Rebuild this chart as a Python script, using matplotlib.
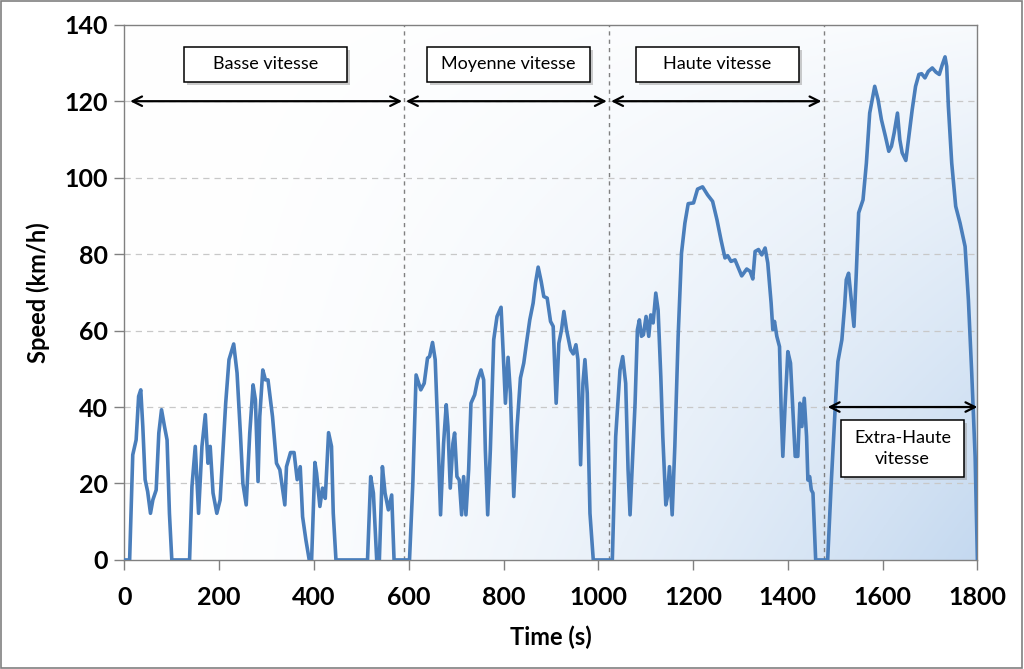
import numpy as np
import matplotlib
matplotlib.use("Agg")
import matplotlib.pyplot as plt
from matplotlib.patches import Rectangle

plt.rcParams['font.family'] = ['Lato', 'DejaVu Sans']

# WLTC class 3 speed trace (s, km/h)
time_s = [0, 11, 17.6, 24.7, 30, 34.5, 38.8, 43.7, 49, 55, 60, 67, 72.6, 78.3, 84.6, 90, 95, 100,
          137.5, 142.5, 149.5, 156.5, 163.6, 170.7, 176.3, 181, 187, 195, 202, 213.7, 220.7, 230.6,
          237.7, 244.7, 250, 257, 264.5, 271.5, 276.4, 282, 285.6, 292, 297.6, 303, 312.5, 320.9,
          328, 338.5, 342, 350.5, 358, 364.6, 371, 376, 383, 390, 395, 402, 405.5, 412.5, 418,
          423.8, 430.8, 437, 440.7, 446.4, 513, 519.7, 525.4, 532.4, 538, 544.4, 550, 557, 564,
          569, 601.6, 608.6, 615.5, 625.4, 632.6, 639.6, 643.9, 650.2, 655.8, 660.8, 667.1, 673.5,
          679.1, 682.7, 687.6, 693.2, 696.8, 701.7, 706.6, 711.6, 715.8, 720.7, 726.4, 731.3,
          739.1, 745.4, 752.5, 758.1, 761.6, 766.6, 772.2, 779.3, 786.3, 794.8, 799, 804, 809.6,
          814.5, 821.6, 828.6, 835.7, 842.7, 848.4, 855.4, 862.5, 867.4, 873.1, 879.4, 885, 892.1,
          899.2, 904.8, 911.1, 916.8, 922.4, 927.4, 933, 941.5, 947.1, 952.8, 957, 962.6, 967.6,
          971.8, 976.7, 982.4, 989.4, 1029.6, 1036.7, 1045.8, 1051.5, 1057.8, 1062.8, 1067, 1072,
          1077.6, 1082.5, 1086.7, 1091, 1095.2, 1100.8, 1106.5, 1110.7, 1115.7, 1121.3, 1126.2,
          1131.9, 1136.1, 1142.5, 1146, 1150.2, 1155.9, 1161.5, 1168.5, 1175.6, 1182.7, 1189.7,
          1201, 1209.4, 1220, 1230.6, 1241.2, 1250.4, 1258.8, 1267.3, 1273, 1280, 1288.5, 1295.6,
          1302.6, 1313.2, 1320.3, 1326, 1330.9, 1338, 1345, 1352, 1357.6, 1364.7, 1368.3, 1371.8,
          1376.7, 1382.4, 1385.9, 1389.4, 1394.4, 1400, 1405.6, 1410.6, 1415.5, 1421, 1425.4,
          1429.6, 1434.6, 1439.5, 1442.3, 1446, 1449.5, 1453, 1458.7, 1484, 1491.5, 1500, 1505.6,
          1514, 1519.7, 1523.3, 1528.2, 1533.9, 1539.5, 1544.4, 1549.4, 1558.6, 1565.7, 1572.7,
          1583.3, 1590.4, 1597.4, 1605.9, 1613, 1618.6, 1624.3, 1631.3, 1636.3, 1641.2, 1649,
          1655.4, 1662.4, 1669.5, 1676.5, 1682.2, 1689.3, 1696.3, 1704.8, 1712.6, 1719.6, 1726,
          1731.7, 1735.2, 1738.7, 1745.8, 1754.2, 1763.4, 1774, 1781, 1788, 1795.2, 1800]
speed_kmh = [0, 0, 27.5, 31.4, 42.8, 44.5, 34.9, 21, 17.9, 12.2, 15.7, 18.3, 33.2, 39.3, 34.9, 31.4, 12.2, 0,
             0, 19.2, 29.7, 12.2, 29.7, 38, 25.3, 29.7, 17.5, 12.2, 15.7, 41, 52.4, 56.5,
             48.9, 33.2, 20, 14.4, 33.2, 45.8, 41.9, 20.5, 37.5, 49.7, 47.1, 47.1, 37.5, 25.3,
             23.6, 14.4, 24.4, 28.1, 28.1, 21, 24.4, 11.3, 5.2, 0, 0, 25.5, 22.7, 14, 18.8,
             16.1, 33.3, 29.7, 12.2, 0, 0, 21.8, 17.5, 0, 0, 24.4, 17.5, 13.1, 17,
             0, 0, 20, 48.4, 44.5, 46.2, 52.8, 53.2, 56.9, 52.4, 35.8, 11.8, 30.5,
             40.6, 34.9, 18.8, 30.5, 33.2, 21.8, 20.9, 11.8, 21.8, 11.8, 23.6, 41,
             43.2, 47.1, 49.7, 47.1, 28.8, 11.8, 28.8, 57.6, 63.7, 66.1, 55, 41, 53,
             43.6, 16.6, 34.9, 47.6, 51.5, 56.7, 62.8, 67.2, 72.4, 76.6, 72.9, 68.9, 68.5,
             62.4, 61.1, 41, 56.7, 60.2, 65, 60.2, 55, 53.9, 56.3, 52.4, 24.9, 46.2,
             52.4, 43.6, 12.2, 0, 0, 32.3, 49.7, 53.2, 46.2, 23.6, 11.8, 25.3,
             41, 60.2, 62.8, 58.5, 58.9, 63.7, 58.5, 64.1, 62, 69.8, 65.4,
             48, 32.3, 14.4, 16.6, 24.4, 11.8, 29.7, 58.5, 80.3, 88.1, 93.2,
             93.4, 97, 97.6, 95.5, 93.8, 89, 83.8, 79, 79.6, 78.1, 78.5, 76.4,
             74.3, 76.1, 75.5, 73.5, 80.7, 81.2, 79.8, 81.6, 77.7, 67.2, 60.2, 62.4,
             58.5, 55.8, 39.3, 27.1, 41, 54.5, 51.5, 39.3, 27.1, 27.1, 41,
             34.9, 42.3, 32.3, 20.9, 21.8, 18.3, 17.5, 0, 0, 20, 40, 51.9,
             57.6, 66.3, 73.3, 75, 68, 61.1, 75, 90.8, 94.2, 103.8, 116.9,
             123.9, 120.4, 115.2, 110.8, 106.9, 108.2, 111.7, 116.9, 109.9, 106.5, 104.5,
             110.8, 117.8, 123.9, 127, 127.2, 126.1, 127.8, 128.7, 127.6, 127, 129.6,
             131.6, 129.1, 118.7, 103.8, 92.5, 88.1, 82, 68, 48.9, 27, 0]

phase_bounds = [589, 1022, 1477]
phase_names = ['Basse vitesse', 'Moyenne vitesse', 'Haute vitesse', 'Extra-Haute\nvitesse']
arrow_spans = [(12, 586), (594, 1018), (1027, 1471), (1484, 1800)]
arrow_levels = [120, 120, 120, 40]
# label boxes: (t_left, t_right, v_bottom, v_top)
label_boxes = [(126, 469, 125.1, 134.3), (638, 983, 125.1, 134.3),
               (1080, 1423, 125.1, 134.3), (1512, 1772, 21.7, 36.6)]

fig = plt.figure(figsize=(10.24, 6.69), dpi=100)
ax = fig.add_axes([0.1215, 0.163, 0.833, 0.8])

# background gradient: white at left and top, light blue toward bottom-right
gx, gy = np.meshgrid(np.linspace(0, 1, 300), np.linspace(0, 1, 200))
g = np.clip((gx ** 1.7) * (0.12 + 0.88 * gy ** 0.9), 0, 1)
c0 = np.array([1.0, 1.0, 1.0])
c1 = np.array([0.77, 0.85, 0.94])
img = c0 + (c1 - c0) * g[..., None]
ax.imshow(img, extent=[0, 1800, 0, 140], origin='upper', aspect='auto', zorder=0)

ax.set_xlim(0, 1800)
ax.set_ylim(0, 140)

for yv in range(20, 140, 20):
    ax.axhline(yv, color='#c8c8c8', lw=0.9, ls=(0, (5, 4)), zorder=1)
for xb in phase_bounds:
    ax.axvline(xb, color='#808080', lw=1.0, ls=(0, (3, 3)), zorder=1)

ax.plot(time_s, speed_kmh, color='#4a7ebb', lw=2.6, zorder=3,
        solid_joinstyle='round', solid_capstyle='round')

for (x0, x1), lv in zip(arrow_spans, arrow_levels):
    ax.annotate('', xy=(x1, lv), xytext=(x0, lv),
                arrowprops=dict(arrowstyle='<->', color='black', lw=1.6,
                                mutation_scale=17, shrinkA=0, shrinkB=0), zorder=4)

for name, (x0, x1, y0, y1) in zip(phase_names, label_boxes):
    # soft shadow then the white box
    ax.add_patch(Rectangle((x0 + 6, y0 - 0.8), x1 - x0, y1 - y0, fc='#9a9a9a', ec='none',
                           alpha=0.5, zorder=5))
    ax.add_patch(Rectangle((x0, y0), x1 - x0, y1 - y0, fc='white', ec='black', lw=1.1, zorder=6))
    ax.text((x0 + x1) / 2, (y0 + y1) / 2, name, ha='center', va='center', fontsize=13,
            linespacing=1.35, zorder=7)

for sp in ax.spines.values():
    sp.set_color('#808080')
    sp.set_linewidth(1.0)

ax.set_xticks(range(0, 1801, 200))
ax.set_yticks(range(0, 141, 20))
ax.tick_params(axis='both', direction='out', length=7, color='#808080', width=1,
               labelsize=18, pad=5)
ax.tick_params(axis='x', pad=12)
for lab in ax.get_xticklabels() + ax.get_yticklabels():
    lab.set_fontweight('bold')

ax.set_xlabel('Time (s)', fontsize=17, fontweight='bold', labelpad=12)
ax.set_ylabel('Speed (km/h)', fontsize=17, fontweight='bold', labelpad=10)

fig.patches.append(Rectangle((0.001, 0.001), 0.997, 0.997, transform=fig.transFigure,
                             fill=False, ec='#808080', lw=1.2))

fig.savefig('out.png', dpi=100)
